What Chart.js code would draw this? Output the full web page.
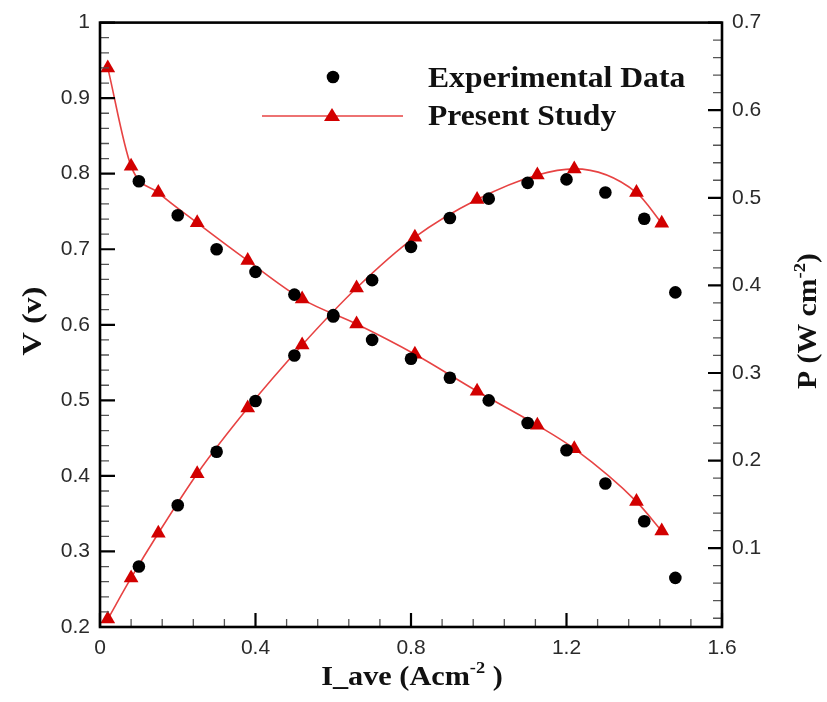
<!DOCTYPE html>
<html>
<head>
<meta charset="utf-8">
<script src="https://cdn.jsdelivr.net/npm/chart.js@4"></script>
<style>
	html, body { margin: 0; padding: 0; background: #fff; }
	#wrap { width: 827px; height: 702px; }
</style>
</head>
<body>
<div id="wrap"><canvas id="polarization"></canvas></div>
<script>
// experimental points (black circles)
const currentExp = [0.1, 0.2, 0.3, 0.4, 0.5, 0.6, 0.7, 0.8, 0.9, 1.0, 1.1, 1.2, 1.3, 1.4, 1.48];
const voltageExp = [0.79, 0.745, 0.70, 0.67, 0.64, 0.611, 0.58, 0.555, 0.53, 0.50, 0.47, 0.434, 0.39, 0.34, 0.265];
const powerExp = [0.079, 0.149, 0.21, 0.268, 0.32, 0.366, 0.406, 0.444, 0.477, 0.499, 0.517, 0.521, 0.506, 0.476, 0.392];

// present study (red triangles + line)
const currentModel = [0.02, 0.08, 0.15, 0.25, 0.38, 0.52, 0.66, 0.81, 0.97, 1.125, 1.22, 1.38, 1.445];
const voltageModel = [0.94, 0.81, 0.775, 0.735, 0.685, 0.634, 0.601, 0.561, 0.512, 0.467, 0.436, 0.366, 0.327];
const powerModel = [0.019, 0.066, 0.117, 0.185, 0.26, 0.332, 0.397, 0.455, 0.498, 0.526, 0.533, 0.506, 0.471];

// tick labels
const xTicks = [0, 0.4, 0.8, 1.2, 1.6];
const vTicks = [0.2, 0.3, 0.4, 0.5, 0.6, 0.7, 0.8, 0.9, 1];
const pTicks = [0.1, 0.2, 0.3, 0.4, 0.5, 0.6, 0.7];

const legendLabels = ["Experimental Data", "Present Study"];

const RED = '#d20000';
const LINE_RED = 'rgba(225,20,20,0.8)';

function pairs(xs, ys) {
	return xs.map(function (x, i) { return { x: x, y: ys[i] }; });
}

// draw text made of normal and superscript pieces at (0,0) of current transform,
// stretched a little sideways like the original typesetting
function richText(ctx, parts, size, align, stretch) {
	var supSize = Math.round(size * 0.62);
	var total = 0;
	parts.forEach(function (p) {
		ctx.font = 'bold ' + (p.sup ? supSize : size) + 'px "Liberation Serif"';
		p.w = ctx.measureText(p.t).width;
		total += p.w;
	});
	ctx.save();
	ctx.scale(stretch || 1, 1);
	var x = align === 'center' ? -total / 2 : 0;
	parts.forEach(function (p) {
		ctx.font = 'bold ' + (p.sup ? supSize : size) + 'px "Liberation Serif"';
		ctx.fillText(p.t, x, p.sup ? -size * 0.42 : 0);
		x += p.w;
	});
	ctx.restore();
}

const framePlugin = {
	id: 'frame',
	afterDatasetsDraw: function (chart) {
		var ctx = chart.ctx, a = chart.chartArea, s = chart.scales;
		var i, px;
		ctx.save();

		// minor ticks
		ctx.strokeStyle = '#555';
		ctx.lineWidth = 1.3;
		ctx.beginPath();
		for (i = 1; i < 20; i++) {
			if (i % 5 === 0) continue;
			px = s.x.getPixelForValue(i * 0.08);
			ctx.moveTo(px, a.bottom); ctx.lineTo(px, a.bottom - 8);
		}
		for (i = 11; i < 50; i++) {
			if (i % 5 === 0) continue;
			px = s.yV.getPixelForValue(i * 0.02);
			ctx.moveTo(a.left, px); ctx.lineTo(a.left + 9, px);
		}
		for (i = 1; i < 35; i++) {
			if (i % 5 === 0) continue;
			px = s.yP.getPixelForValue(i * 0.02);
			ctx.moveTo(a.right, px); ctx.lineTo(a.right - 9, px);
		}
		ctx.stroke();

		// major ticks
		ctx.strokeStyle = '#000';
		ctx.lineWidth = 2.2;
		ctx.beginPath();
		xTicks.forEach(function (v) {
			px = s.x.getPixelForValue(v);
			ctx.moveTo(px, a.bottom); ctx.lineTo(px, a.bottom - 14);
		});
		vTicks.forEach(function (v) {
			px = s.yV.getPixelForValue(v);
			ctx.moveTo(a.left, px); ctx.lineTo(a.left + 15, px);
		});
		pTicks.forEach(function (v) {
			px = s.yP.getPixelForValue(v);
			ctx.moveTo(a.right, px); ctx.lineTo(a.right - 14, px);
		});
		ctx.stroke();

		// frame
		ctx.lineWidth = 2.6;
		ctx.strokeRect(a.left, a.top, a.right - a.left, a.bottom - a.top);

		// axis titles
		ctx.fillStyle = '#111';
		ctx.textBaseline = 'alphabetic';
		ctx.save();
		ctx.translate(41, 321);
		ctx.rotate(-Math.PI / 2);
		richText(ctx, [{ t: 'V (v)' }], 28, 'center', 1.15);
		ctx.restore();

		ctx.save();
		ctx.translate(816, 321);
		ctx.rotate(-Math.PI / 2);
		richText(ctx, [{ t: 'P (W cm' }, { t: '-2', sup: true }, { t: ')' }], 27, 'center', 1.1);
		ctx.restore();

		ctx.save();
		ctx.translate(412, 685);
		richText(ctx, [{ t: 'I_ave (Acm' }, { t: '-2', sup: true }, { t: ' )' }], 28, 'center', 1.08);
		ctx.restore();

		// legend
		ctx.fillStyle = '#000';
		ctx.beginPath();
		ctx.arc(333, 77, 6.3, 0, Math.PI * 2);
		ctx.fill();
		ctx.strokeStyle = LINE_RED;
		ctx.lineWidth = 1.6;
		ctx.beginPath();
		ctx.moveTo(262, 116); ctx.lineTo(403, 116);
		ctx.stroke();
		ctx.fillStyle = RED;
		ctx.beginPath();
		ctx.moveTo(332, 108); ctx.lineTo(340, 121); ctx.lineTo(324, 121);
		ctx.closePath();
		ctx.fill();

		ctx.fillStyle = '#111';
		ctx.save();
		ctx.translate(428, 87);
		richText(ctx, [{ t: legendLabels[0] }], 29, 'left', 1.09);
		ctx.restore();
		ctx.save();
		ctx.translate(428, 125);
		richText(ctx, [{ t: legendLabels[1] }], 29, 'left', 1.09);
		ctx.restore();

		ctx.restore();
	}
};

function fmt(v) { return String(+Number(v).toFixed(2)); }
const tickFont = { family: '"Liberation Sans", Arial, sans-serif', size: 21 };

new Chart(document.getElementById('polarization').getContext('2d'), {
	type: 'scatter',
	data: {
		datasets: [
			{
				label: 'Experimental Data',
				data: pairs(currentExp, voltageExp),
				yAxisID: 'yV',
				showLine: false,
				pointStyle: 'circle',
				pointRadius: 6.3,
				backgroundColor: '#000',
				borderColor: '#000',
				borderWidth: 0
			},
			{
				label: 'Experimental Data (P)',
				data: pairs(currentExp, powerExp),
				yAxisID: 'yP',
				showLine: false,
				pointStyle: 'circle',
				pointRadius: 6.3,
				backgroundColor: '#000',
				borderColor: '#000',
				borderWidth: 0
			},
			{
				label: 'Present Study',
				data: pairs(currentModel, voltageModel),
				yAxisID: 'yV',
				showLine: true,
				cubicInterpolationMode: 'monotone',
				borderColor: LINE_RED,
				borderWidth: 1.6,
				pointStyle: 'triangle',
				pointRadius: 8.5,
				pointBackgroundColor: RED,
				pointBorderColor: RED,
				pointBorderWidth: 0
			},
			{
				label: 'Present Study (P)',
				data: pairs(currentModel, powerModel),
				yAxisID: 'yP',
				showLine: true,
				cubicInterpolationMode: 'monotone',
				borderColor: LINE_RED,
				borderWidth: 1.6,
				pointStyle: 'triangle',
				pointRadius: 8.5,
				pointBackgroundColor: RED,
				pointBorderColor: RED,
				pointBorderWidth: 0
			}
		]
	},
	options: {
		responsive: true,
		maintainAspectRatio: false,
		animation: false,
		layout: { padding: { top: 17.5, right: 0, left: 0, bottom: 0 } },
		plugins: {
			legend: { display: false },
			tooltip: { enabled: false }
		},
		scales: {
			x: {
				type: 'linear',
				min: 0, max: 1.6,
				grid: { display: false, drawTicks: false },
				border: { display: false },
				afterBuildTicks: function (scale) { scale.ticks = xTicks.map(function (v) { return { value: v }; }); },
				afterFit: function (scale) { scale.height = 75; },
				ticks: { font: tickFont, color: '#2a2a2a', padding: 9, maxRotation: 0, callback: fmt }
			},
			yV: {
				type: 'linear',
				position: 'left',
				min: 0.2, max: 1,
				grid: { display: false, drawTicks: false },
				border: { display: false },
				afterBuildTicks: function (scale) { scale.ticks = vTicks.map(function (v) { return { value: v }; }); },
				afterFit: function (scale) { scale.width = 100; },
				ticks: { font: tickFont, color: '#2a2a2a', padding: 10, callback: fmt }
			},
			yP: {
				type: 'linear',
				position: 'right',
				min: 0.01, max: 0.7,
				grid: { display: false, drawTicks: false },
				border: { display: false },
				afterBuildTicks: function (scale) { scale.ticks = pTicks.map(function (v) { return { value: v }; }); },
				afterFit: function (scale) { scale.width = 105; },
				ticks: { font: tickFont, color: '#2a2a2a', padding: 10, callback: fmt }
			}
		}
	},
	plugins: [framePlugin]
});
</script>
</body>
</html>
